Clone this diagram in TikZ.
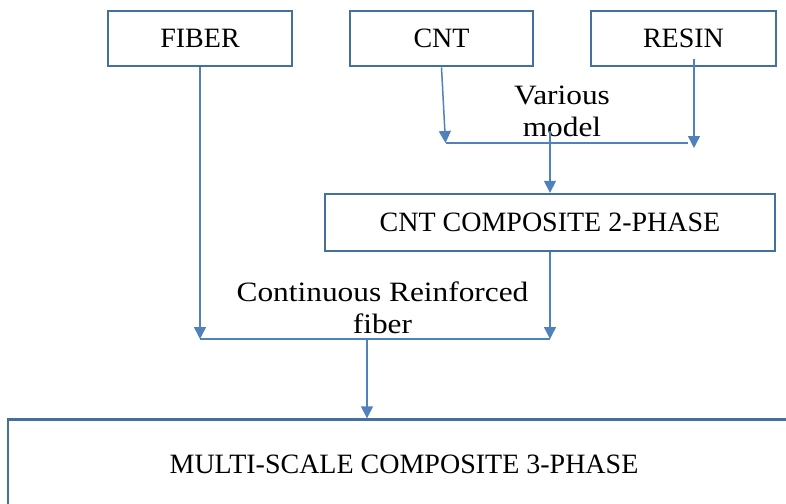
\documentclass[tikz,border=0pt]{standalone}
\usepackage{fontspec}
\setmainfont{Liberation Serif}
\newfontfamily\lblfont[FakeStretch=1.12]{Liberation Serif}
\usetikzlibrary{arrows.meta}
\definecolor{boxblue}{HTML}{41719C}
\definecolor{linkblue}{HTML}{4F81BD}
\begin{document}
\begin{tikzpicture}[x=1pt,y=-1pt,
  box/.style={draw=boxblue,line width=2.4pt,fill=white,inner sep=0pt,
    font=\fontsize{28}{33}\selectfont},
  link/.style={draw=linkblue,line width=1.5pt},
  arr/.style={link,-{Triangle[width=12pt,length=12pt]}},
  lbl/.style={align=center,inner sep=0pt,
    font=\lblfont\fontsize{28}{32.5}\selectfont}]
\clip (0,0) rectangle (786,503);
\fill[white] (0,0) rectangle (786,503);
% boxes
\node[box,minimum width=184pt,minimum height=55.5pt] (fiber) at (200,38.5) {FIBER};
\node[box,minimum width=183pt,minimum height=55.5pt] (cnt) at (441.5,38.5) {CNT};
\node[box,minimum width=185pt,minimum height=55.5pt] (resin) at (683.5,38.5) {RESIN};
\node[box,minimum width=450pt,minimum height=57pt] (comp2) at (550,222.5) {CNT COMPOSITE 2-PHASE};
\node[box,minimum width=792pt,minimum height=90pt] (comp3) at (404,464.5) {MULTI-SCALE COMPOSITE 3-PHASE};
% labels
\node[lbl] (various) at (562,111.5) {Various\\model};
\node[lbl] (cont) at (382.5,308) {Continuous Reinforced\\fiber};
% junction points
\coordinate (cntend) at (445.5,143);
\coordinate (barA) at (688,143);
\coordinate (resinstart) at (694,59);
\coordinate (resinend) at (694,148);
\coordinate (modelstart) at (550,131);
\coordinate (fiberend) at (200,339);
\coordinate (comp2end) at (550,339);
\coordinate (midbar) at (367,339);
% connectors
\draw[arr] (cnt.south) -- (cntend);
\draw[link] (cntend) -- (barA);
\draw[arr] (resinstart) -- (resinend);
\draw[arr] (modelstart) -- (comp2.north);
\draw[arr] (fiber.south) -- (fiberend);
\draw[arr] (comp2.south) -- (comp2end);
\draw[link] (fiberend) -- (comp2end);
\draw[arr] (midbar) -- (midbar |- comp3.north);
\end{tikzpicture}
\end{document}
